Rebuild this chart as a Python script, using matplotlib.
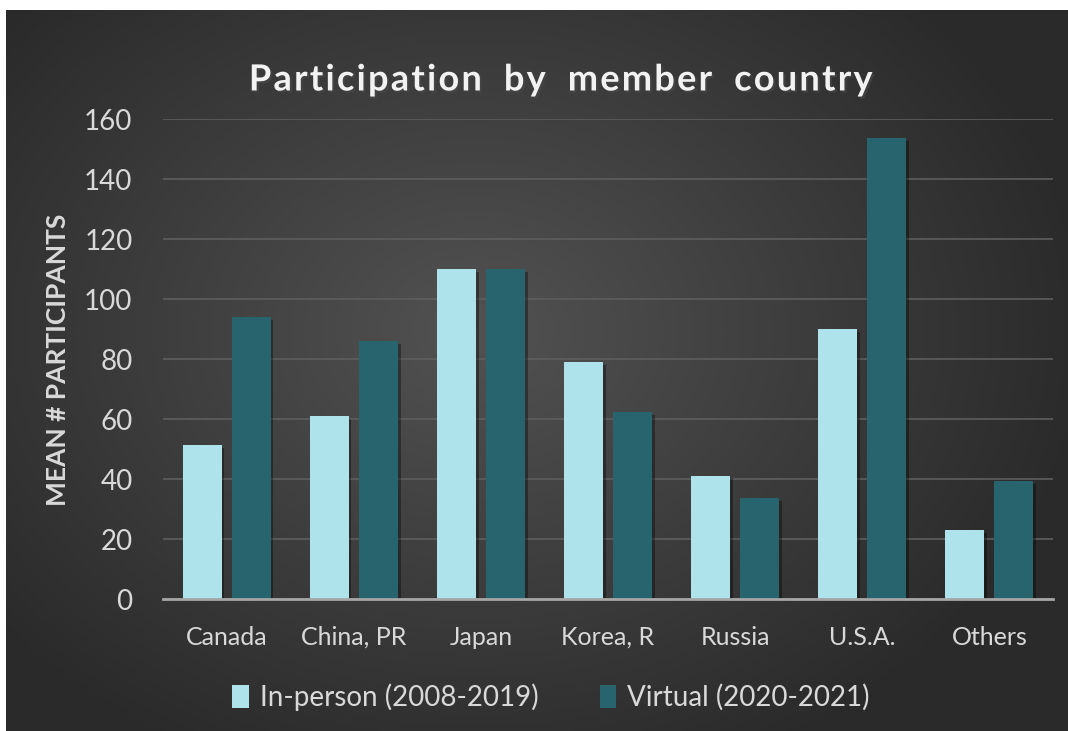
import numpy as np
import matplotlib
matplotlib.use('Agg')
import matplotlib.pyplot as plt
import matplotlib.patheffects as pe
from matplotlib.colors import LinearSegmentedColormap

# Data
countries = ['Canada', 'China, PR', 'Japan', 'Korea, R', 'Russia', 'U.S.A.', 'Others']
in_person = [51.5, 61, 110, 79, 41.2, 90, 23]
virtual = [94, 86, 110, 62.5, 33.7, 153.8, 39.4]
series_names = ['In-person (2008-2019)', 'Virtual (2020-2021)']
yticks = [0, 20, 40, 60, 80, 100, 120, 140, 160]
title = 'Participation by member country'

light = '#afe3ec'
dark = '#28646e'
txt = '#d9d9d9'

plt.rcParams['font.family'] = ['Lato', 'DejaVu Sans']

W, H = 1068, 731
fig = plt.figure(figsize=(W / 100, H / 100), dpi=100)
fig.patch.set_facecolor('white')

# dark radial background panel
bg = fig.add_axes([6 / W, 0, 1 - 6 / W, 1 - 10 / H])
bg.set_axis_off()
yy, xx = np.mgrid[0:721, 0:1062]
cx, cy = 470, 320
r = np.sqrt(((xx - cx) / 620.0) ** 2 + ((yy - cy) / 480.0) ** 2)
r = np.clip(r, 0, 1)
cmap = LinearSegmentedColormap.from_list('bg', ['#525252', '#3e3e3e', '#2a2a2a'])
bg.imshow(r, cmap=cmap, aspect='auto', extent=[0, 1, 0, 1], origin='upper')
bg.set_xlim(0, 1)
bg.set_ylim(0, 1)

ax = fig.add_axes([163 / W, (H - 599.3) / H, (1053 - 163) / W, (599.3 - 119.3) / H])
ax.patch.set_alpha(0)

x = np.arange(len(countries))
bw = 0.307
off = 0.193
shadow = [pe.SimplePatchShadow(offset=(2, -2), shadow_rgbFace='black', alpha=0.35), pe.Normal()]
b1 = ax.bar(x - off, in_person, bw, color=light, label=series_names[0], zorder=3)
b2 = ax.bar(x + off, virtual, bw, color=dark, label=series_names[1], zorder=3)
for b in list(b1) + list(b2):
    b.set_path_effects(shadow)

ax.set_xlim(-0.5, len(countries) - 0.5)
ax.set_ylim(0, 160)
ax.set_yticks(yticks)
ax.set_xticks(x)
ax.set_xticklabels(countries)
ax.grid(axis='y', color='#5e5e5e', linewidth=1.2, zorder=0)
for s in ['top', 'right', 'left']:
    ax.spines[s].set_visible(False)
ax.spines['bottom'].set_color('#a6a6a6')
ax.spines['bottom'].set_linewidth(2)
ax.spines['bottom'].set_zorder(4)
ax.tick_params(axis='y', length=0, pad=22, labelsize=20, labelcolor=txt)
ax.tick_params(axis='x', length=0, pad=19, labelsize=18, labelcolor=txt)

# wide letter spacing like the original title (hair spaces between letters)
spaced = '\u200a'.join(title).replace(' ', '  ')
fig.text(0.525, 1 - 80 / H, spaced, ha='center', va='center',
         fontsize=26, fontweight='bold', color='#f2f2f2',
         path_effects=[pe.withSimplePatchShadow(offset=(1.5, -1.5), alpha=0.6)])
fig.text(58 / W, 1 - 360 / H, 'MEAN # PARTICIPANTS', rotation=90, ha='center', va='center',
         fontsize=19, fontweight='bold', color=txt)

leg = fig.legend(loc='center', bbox_to_anchor=(0.516, 1 - 697 / H), ncol=2, frameon=False,
                 fontsize=20, labelcolor=txt, handlelength=0.6, handleheight=0.9,
                 handletextpad=0.4, columnspacing=2.2)
for h in leg.legend_handles:
    h.set_path_effects([])

fig.savefig('out.png', dpi=100, facecolor=fig.get_facecolor())
